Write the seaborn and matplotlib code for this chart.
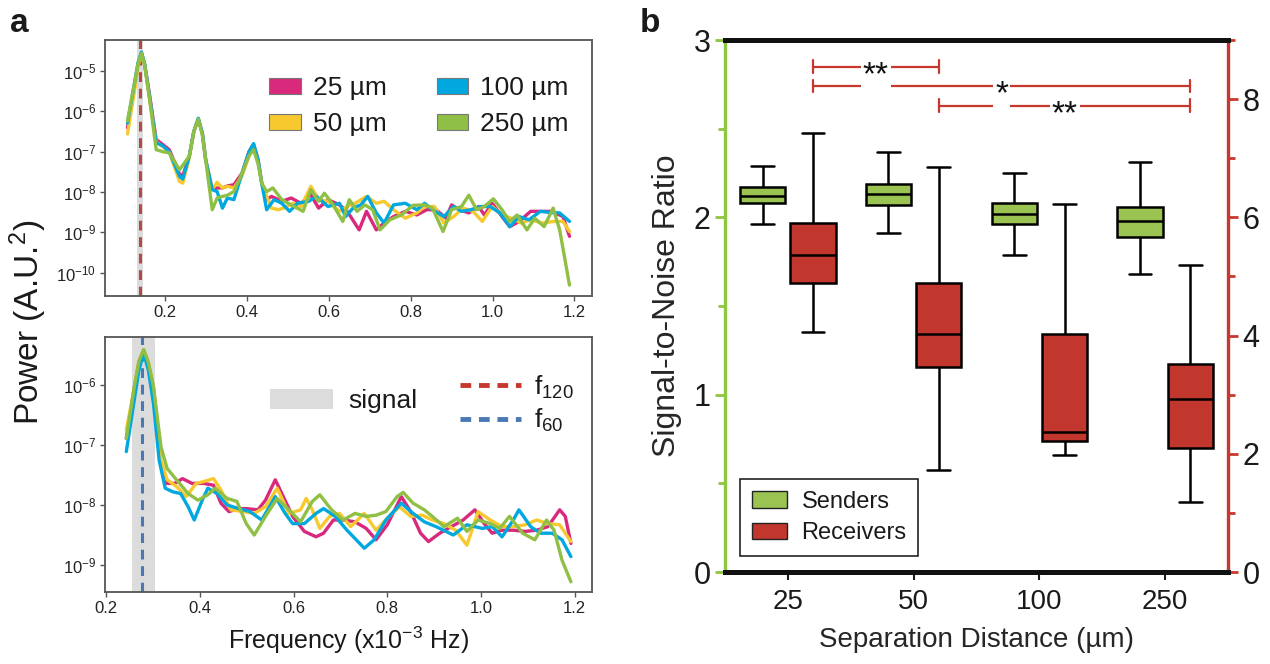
import numpy as np
import pandas as pd
import matplotlib
matplotlib.use("Agg")
import matplotlib.pyplot as plt
import seaborn as sns
from matplotlib.patches import Patch
from matplotlib.lines import Line2D
from matplotlib.ticker import FixedLocator, NullLocator, FuncFormatter

# ---------------- data: panel a (log10 of power, A.U.^2) ----------------
series_names = ["25 µm", "50 µm", "100 µm", "250 µm"]

top_freq_25 = [0.108,0.125,0.134,0.142,0.150,0.162,0.178,0.194,0.21,0.235,0.243,0.259,0.270,0.281,0.291,0.299,0.315,0.327,0.34,0.352,0.368,0.388,0.405,0.416,0.427,0.436,0.448,0.46,
               0.485,0.508,0.532,0.556,0.575,0.598,0.626,0.645,0.674,0.692,0.716,0.735,0.758,0.787,0.815,0.839,0.862,0.886,0.9,0.919,0.942,0.966,0.98,0.999,1.023,1.042,1.065,1.093,1.117,1.145,1.172,1.188]
top_logp_25 = [-6.41,-5.4,-4.82,-4.55,-4.85,-5.6,-6.70,-6.82,-6.95,-7.55,-7.6,-7.11,-6.5,-6.19,-6.55,-7.2,-7.94,-7.9,-7.9,-7.85,-7.82,-7.53,-7.0,-6.82,-7.2,-7.78,-8.19,-8.11,
               -8.23,-8.15,-8.28,-8.07,-8.40,-8.19,-8.32,-8.48,-8.94,-8.48,-8.94,-8.77,-8.61,-8.48,-8.57,-8.44,-8.44,-8.65,-8.32,-8.44,-8.52,-8.36,-8.57,-8.28,-8.61,-8.86,-8.73,-8.48,-8.48,-8.48,-8.61,-9.10]

top_freq_50 = [0.108,0.125,0.134,0.142,0.150,0.162,0.178,0.194,0.21,0.235,0.243,0.259,0.270,0.281,0.291,0.299,0.315,0.327,0.34,0.352,0.368,0.388,0.405,0.416,0.427,0.436,0.448,0.46,0.476,
               0.49,0.513,0.532,0.556,0.575,0.598,0.626,0.645,0.664,0.692,0.716,0.735,0.758,0.787,0.815,0.834,0.858,0.881,0.905,0.928,0.952,0.975,0.999,1.023,1.046,1.07,1.093,1.121,1.149,1.172,1.188]
top_logp_50 = [-6.56,-5.5,-4.85,-4.58,-4.88,-5.7,-6.75,-6.88,-7.0,-7.74,-7.78,-7.15,-6.5,-6.19,-6.55,-7.2,-7.94,-7.76,-7.9,-7.86,-7.9,-7.6,-7.1,-6.9,-7.25,-7.78,-8.11,-8.4,-8.44,
               -8.40,-8.28,-8.36,-7.86,-8.19,-8.23,-8.48,-8.36,-8.28,-8.11,-8.28,-8.23,-8.44,-8.65,-8.52,-8.36,-8.36,-8.77,-8.61,-8.40,-8.48,-8.73,-8.36,-8.57,-8.65,-8.77,-8.69,-8.77,-8.73,-8.73,-8.98]

top_freq_100 = [0.108,0.125,0.134,0.142,0.150,0.162,0.178,0.194,0.21,0.235,0.243,0.259,0.270,0.281,0.291,0.299,0.315,0.327,0.34,0.352,0.368,0.388,0.405,0.416,0.427,0.436,0.448,0.466,
                0.485,0.504,0.523,0.551,0.57,0.598,0.626,0.641,0.659,0.678,0.695,0.716,0.735,0.758,0.787,0.815,0.834,0.853,0.881,0.905,0.924,0.947,0.971,0.994,1.018,1.042,1.065,1.089,1.117,1.141,1.164,1.188]
top_logp_100 = [-6.29,-5.3,-4.78,-4.53,-4.82,-5.65,-6.78,-6.85,-7.0,-7.61,-7.68,-7.11,-6.5,-6.17,-6.55,-7.2,-7.94,-7.99,-8.4,-8.15,-8.19,-7.53,-7.0,-6.8,-7.2,-7.78,-8.44,-8.19,
                -8.28,-8.48,-8.28,-8.23,-8.11,-8.36,-8.28,-8.61,-8.40,-8.32,-8.11,-8.52,-8.77,-8.32,-8.28,-8.44,-8.28,-8.44,-8.61,-8.36,-8.48,-8.44,-8.36,-8.36,-8.52,-8.86,-8.61,-8.69,-8.48,-8.51,-8.52,-8.73]

top_freq_250 = [0.108,0.125,0.134,0.142,0.150,0.162,0.178,0.194,0.21,0.235,0.259,0.270,0.281,0.291,0.299,0.315,0.327,0.34,0.352,0.368,0.388,0.405,0.416,0.427,0.436,0.448,0.463,
                0.485,0.508,0.537,0.556,0.575,0.589,0.608,0.634,0.65,0.669,0.688,0.707,0.725,0.749,0.777,0.806,0.834,0.853,0.879,0.9,0.924,0.942,0.961,0.98,1.002,1.023,1.042,1.06,1.084,1.103,1.126,1.148,1.164,1.188]
top_logp_250 = [-6.24,-5.3,-4.8,-4.56,-4.85,-5.7,-6.95,-7.0,-7.03,-7.45,-7.11,-6.5,-6.19,-6.6,-7.2,-8.44,-8.15,-8.11,-8.08,-7.99,-7.53,-7.1,-6.95,-7.3,-7.78,-7.99,-7.9,
                -8.19,-8.32,-8.48,-7.94,-8.23,-8.03,-8.28,-8.73,-8.19,-8.48,-8.32,-8.44,-8.94,-8.69,-8.57,-8.33,-8.32,-8.40,-8.98,-8.44,-8.36,-8.08,-8.44,-8.36,-8.17,-8.44,-8.73,-8.57,-8.94,-8.65,-8.86,-8.40,-8.94,-10.31]

bot_freq_25 = [0.243,0.26,0.27,0.28,0.29,0.301,0.317,0.33,0.346,0.363,0.383,0.408,0.429,0.445,0.462,0.483,0.499,0.524,0.54,0.561,0.578,0.598,0.623,0.648,0.664,
               0.685,0.706,0.731,0.755,0.776,0.8,0.83,0.85,0.871,0.888,0.912,0.937,0.962,0.987,1.007,1.024,1.045,1.069,1.094,1.119,1.143,1.168,1.18,1.192]
bot_logp_25 = [-6.89,-6.05,-5.62,-5.42,-5.64,-6.05,-7.36,-7.64,-7.64,-7.56,-7.64,-7.64,-7.67,-7.97,-8.11,-8.06,-8.06,-8.08,-7.92,-7.58,-7.86,-8.19,-8.44,-8.53,-8.47,
               -8.25,-8.25,-8.28,-8.39,-8.58,-8.33,-7.86,-8.11,-8.47,-8.61,-8.47,-8.36,-8.25,-8.08,-8.31,-8.47,-8.42,-8.42,-8.44,-8.42,-8.36,-8.08,-8.19,-8.64]

bot_freq_50 = [0.243,0.26,0.27,0.28,0.29,0.301,0.317,0.33,0.35,0.371,0.392,0.408,0.429,0.445,0.466,0.491,0.516,0.54,0.565,0.59,0.615,0.627,0.64,0.656,0.677,
               0.698,0.722,0.751,0.776,0.8,0.826,0.85,0.875,0.896,0.921,0.946,0.97,0.994,1.02,1.045,1.069,1.094,1.119,1.143,1.168,1.192]
bot_logp_50 = [-6.75,-6.05,-5.6,-5.41,-5.62,-6.05,-7.25,-7.58,-7.69,-7.86,-7.64,-7.61,-7.56,-7.75,-8.08,-8.11,-8.14,-8.03,-7.72,-8.14,-8.08,-7.89,-8.08,-8.39,-8.19,
               -8.14,-8.36,-8.14,-8.42,-8.22,-8.03,-8.19,-8.17,-8.25,-8.31,-8.42,-8.67,-8.11,-8.25,-8.36,-8.36,-8.33,-8.25,-8.31,-8.33,-8.61]

bot_freq_100 = [0.243,0.26,0.27,0.28,0.29,0.301,0.313,0.326,0.342,0.359,0.375,0.388,0.404,0.417,0.437,0.458,0.483,0.507,0.532,0.561,0.582,0.598,0.623,0.648,0.664,
                0.689,0.714,0.751,0.772,0.797,0.83,0.855,0.879,0.904,0.941,0.97,1.003,1.024,1.045,1.069,1.081,1.106,1.127,1.152,1.173,1.192]
bot_logp_100 = [-7.11,-6.25,-5.75,-5.47,-5.75,-6.31,-7.25,-7.72,-7.78,-7.81,-8.03,-8.25,-7.94,-7.72,-7.81,-8.0,-8.06,-8.11,-8.25,-7.86,-8.14,-8.31,-8.31,-8.14,-8.06,
                -8.19,-8.42,-8.72,-8.58,-8.25,-7.97,-8.14,-8.28,-8.36,-8.5,-8.33,-8.39,-8.36,-8.53,-8.25,-8.08,-8.36,-8.47,-8.47,-8.58,-8.86]

bot_freq_250 = [0.243,0.26,0.27,0.28,0.29,0.301,0.317,0.33,0.35,0.375,0.396,0.417,0.433,0.458,0.479,0.499,0.516,0.54,0.565,0.59,0.615,0.64,0.656,0.681,0.706,
                0.731,0.755,0.776,0.797,0.821,0.834,0.855,0.879,0.896,0.921,0.95,0.97,0.994,1.02,1.04,1.061,1.089,1.115,1.14,1.156,1.173,1.192]
bot_logp_250 = [-6.89,-6.03,-5.6,-5.41,-5.62,-6.03,-7.03,-7.39,-7.58,-7.81,-7.92,-7.83,-7.72,-7.89,-7.94,-8.31,-8.5,-8.19,-7.89,-8.08,-8.28,-7.94,-7.83,-8.08,-8.25,
                -8.14,-8.19,-8.17,-8.11,-7.86,-7.79,-7.97,-8.08,-8.19,-8.36,-8.22,-8.44,-8.25,-8.31,-8.39,-8.19,-8.47,-8.58,-8.25,-8.42,-8.92,-9.28]

f120_line = 0.1395
f60_line = 0.277
signal_band_top = (0.132, 0.147)
signal_band_bottom = (0.255, 0.305)

# ---------------- data: panel b (five-number summaries) ----------------
distances = ["25", "50", "100", "250"]
senders_whislo = [1.96, 1.91, 1.79, 1.68]
senders_q1 = [2.08, 2.07, 1.96, 1.89]
senders_median = [2.12, 2.13, 2.02, 1.98]
senders_q3 = [2.17, 2.19, 2.08, 2.06]
senders_whishi = [2.29, 2.37, 2.25, 2.31]
# receivers on right axis (0-9)
receivers_whislo = [4.06, 1.72, 1.98, 1.19]
receivers_q1 = [4.89, 3.47, 2.21, 2.10]
receivers_median = [5.37, 4.03, 2.37, 2.93]
receivers_q3 = [5.91, 4.89, 4.03, 3.52]
receivers_whishi = [7.42, 6.85, 6.23, 5.20]
# significance brackets (from distance index, to distance index, label, left-axis level)
sig_pairs = [(0, 1, "**", 2.85), (0, 3, "*", 2.74), (1, 3, "**", 2.63)]

# ---------------- style ----------------
sns.set_theme(style="white")
plt.rcParams["font.family"] = ["Liberation Sans", "DejaVu Sans"]
plt.rcParams["mathtext.fontset"] = "custom"
plt.rcParams["mathtext.rm"] = "Liberation Sans"
plt.rcParams["mathtext.it"] = "Liberation Sans:italic"
plt.rcParams["mathtext.bf"] = "Liberation Sans:bold"
plt.rcParams["text.color"] = "#1a1a1a"

line_colors = {"25 µm": "#d9297c", "50 µm": "#f7c92e", "100 µm": "#00a8df", "250 µm": "#8fc045"}
GREEN_BOX = "#9ac351"
RED_BOX = "#c1372d"
GREEN_SPINE = "#8dc63f"
RED_SPINE = "#c8372d"

W, H = 1270, 664
fig = plt.figure(figsize=(W / 100, H / 100), dpi=100)


def frac(l, t, r, b):
    return [l / W, (H - b) / H, (r - l) / W, (b - t) / H]


def long_df(freqs, logps):
    rows = []
    for name, f, lp in zip(series_names, freqs, logps):
        for x, y in zip(f, lp):
            rows.append({"freq": x, "power": 10.0 ** y, "dist": name})
    return pd.DataFrame(rows)


df_top = long_df([top_freq_25, top_freq_50, top_freq_100, top_freq_250],
                 [top_logp_25, top_logp_50, top_logp_100, top_logp_250])
df_bot = long_df([bot_freq_25, bot_freq_50, bot_freq_100, bot_freq_250],
                 [bot_logp_25, bot_logp_50, bot_logp_100, bot_logp_250])

ax_top = fig.add_axes(frac(105, 40, 592, 296))
ax_bot = fig.add_axes(frac(105, 337, 592, 592))

log_fmt = FuncFormatter(lambda v, p: r"$10^{%d}$" % int(round(np.log10(v))))

for ax, df, band, vline, vcol, ylim, xlim, yt in [
    (ax_top, df_top, signal_band_top, f120_line, "#b5484a", (10 ** -10.58, 10 ** -4.23), (0.053, 1.243), range(-10, -4)),
    (ax_bot, df_bot, signal_band_bottom, f60_line, "#4a78b5", (10 ** -9.45, 10 ** -5.2), (0.1975, 1.237), range(-9, -5)),
]:
    ax.set_yscale("log")
    ax.axvspan(band[0], band[1], color="#dcdcdc", lw=0, zorder=0)
    sns.lineplot(data=df, x="freq", y="power", hue="dist", hue_order=series_names,
                 palette=line_colors, estimator=None, sort=True, linewidth=2.4,
                 legend=False, ax=ax, zorder=2)
    for ln in ax.get_lines():
        ln.set_solid_joinstyle("round")
        ln.set_solid_capstyle("round")
    ax.axvline(vline, color=vcol, lw=2.2, ls=(0, (3.2, 2.2)), zorder=1.5)
    ax.set_xlim(*xlim)
    ax.set_ylim(*ylim)
    ax.yaxis.set_major_locator(FixedLocator([10.0 ** k for k in yt]))
    ax.yaxis.set_minor_locator(NullLocator())
    ax.yaxis.set_major_formatter(log_fmt)
    ax.xaxis.set_major_locator(FixedLocator([0.2, 0.4, 0.6, 0.8, 1.0, 1.2]))
    ax.xaxis.set_major_formatter(FuncFormatter(lambda v, p: "%.1f" % v))
    ax.tick_params(axis="both", which="major", direction="out", length=3.5, width=1,
                   color="#555555", labelsize=12, pad=3, labelcolor="#222222",
                   bottom=True, left=True)
    ax.set_xlabel("")
    ax.set_ylabel("")
    for s in ax.spines.values():
        s.set_color("#555555")
        s.set_linewidth(1.3)
        s.set_visible(True)
    ax.set_facecolor("white")

# top legend
top_handles = [Patch(facecolor=line_colors[n], edgecolor="#777777", linewidth=0.8, label=n) for n in series_names]
ax_top.legend(handles=top_handles, ncol=2, loc="upper right", bbox_to_anchor=(0.99, 0.93),
              frameon=False, fontsize=19, handlelength=1.2, handleheight=0.55, handletextpad=0.45,
              columnspacing=1.9, labelspacing=0.45, borderpad=0.2)

# bottom legends
leg_sig = ax_bot.legend(handles=[Patch(facecolor="#dcdcdc", edgecolor="none", label="signal")],
                        loc="upper left", bbox_to_anchor=(0.3, 0.87), frameon=False, fontsize=19,
                        handlelength=2.4, handleheight=0.8, handletextpad=0.6, borderpad=0.2)
ax_bot.add_artist(leg_sig)
ax_bot.legend(handles=[Line2D([], [], color="#c8372d", lw=3.5, ls=(0, (2.2, 1.6)), label=r"f$_{120}$"),
                       Line2D([], [], color="#4a78b5", lw=3.5, ls=(0, (2.2, 1.6)), label=r"f$_{60}$")],
              loc="upper right", bbox_to_anchor=(1.0, 0.93), frameon=False, fontsize=19,
              handlelength=2.3, handletextpad=0.5, labelspacing=0.25, borderpad=0.2)

fig.text(0.022, (H - 322) / H, "Power (A.U.$^2$)", rotation=90, fontsize=24, ha="center", va="center")
fig.text((105 + 592) / 2 / W, (H - 640) / H, "Frequency (x10$^{-3}$ Hz)", fontsize=18, ha="center", va="center")
fig.text(10 / W, (H - 8) / H, "a", fontsize=24, fontweight="bold", ha="left", va="top")
fig.text(640 / W, (H - 8) / H, "b", fontsize=24, fontweight="bold", ha="left", va="top")

# ---------------- panel b ----------------
ax_b = fig.add_axes(frac(725, 40, 1228, 572))
ax_r = ax_b.twinx()

s_rows, r_rows = [], []
for i, d in enumerate(distances):
    for v in (senders_whislo[i], senders_q1[i], senders_median[i], senders_q3[i], senders_whishi[i]):
        s_rows.append({"distance": d, "value": v, "group": "Senders"})
    for v in (receivers_whislo[i], receivers_q1[i], receivers_median[i], receivers_q3[i], receivers_whishi[i]):
        r_rows.append({"distance": d, "value": v, "group": "Receivers"})
df_s = pd.DataFrame(s_rows)
df_r = pd.DataFrame(r_rows)

box_kw = dict(x="distance", y="value", hue="group", order=distances, hue_order=["Senders", "Receivers"],
              palette={"Senders": GREEN_BOX, "Receivers": RED_BOX}, whis=(0, 100), width=0.8, gap=0.1,
              dodge=True, saturation=1, linecolor="black", linewidth=1.8, legend=False, showfliers=False)
sns.boxplot(data=df_s, ax=ax_b, **box_kw)
sns.boxplot(data=df_r, ax=ax_r, **box_kw)

ax_b.set_ylim(0, 3)
ax_r.set_ylim(0, 9)
ax_b.set_xlim(-0.5, 3.5)
ax_b.set_yticks([0, 1, 2, 3])
ax_b.set_yticks([0.5, 1.5, 2.5], minor=True)
ax_r.set_yticks([0, 2, 4, 6, 8])
ax_r.set_yticks([1, 3, 5, 7, 9], minor=True)
ax_b.tick_params(axis="y", which="both", colors=GREEN_SPINE, labelcolor="#1a1a1a", direction="out",
                 width=2, labelsize=22, left=True)
ax_b.tick_params(axis="y", which="major", length=7)
ax_b.tick_params(axis="y", which="minor", length=5)
ax_r.tick_params(axis="y", which="both", colors=RED_SPINE, labelcolor="#1a1a1a", direction="out",
                 width=2, labelsize=22, right=True)
ax_r.tick_params(axis="y", which="major", length=7)
ax_r.tick_params(axis="y", which="minor", length=5)
ax_b.tick_params(axis="x", colors="#1a1a1a", direction="out", length=6, width=1.5, labelsize=20, bottom=True, pad=6)
ax_r.tick_params(axis="x", bottom=False, labelbottom=False)

for a in (ax_b, ax_r):
    a.spines["top"].set_color("#111111")
    a.spines["top"].set_linewidth(3.6)
    a.spines["bottom"].set_color("#111111")
    a.spines["bottom"].set_linewidth(3.6)
    a.spines["left"].set_color(GREEN_SPINE)
    a.spines["left"].set_linewidth(2.4)
    a.spines["right"].set_color(RED_SPINE)
    a.spines["right"].set_linewidth(2.4)
ax_r.spines["left"].set_visible(False)
ax_b.spines["right"].set_visible(False)

ax_b.set_xlabel("Separation Distance (µm)", fontsize=20, labelpad=9)
ax_b.set_ylabel("Signal-to-Noise Ratio", fontsize=23, labelpad=8)
ax_r.set_ylabel("")

# significance brackets (receiver boxes sit at +0.2 of each category)
offset = 0.2
cap = 0.035
for i0, i1, lab, lev in sig_pairs:
    x0, x1 = i0 + offset, i1 + offset
    ax_b.plot([x0, x1], [lev, lev], color=RED_SPINE, lw=1.6, zorder=5, clip_on=False)
    ax_b.plot([x0, x0], [lev - cap, lev + cap], color=RED_SPINE, lw=1.6, zorder=5)
    ax_b.plot([x1, x1], [lev - cap, lev + cap], color=RED_SPINE, lw=1.6, zorder=5)
    ax_b.text((x0 + x1) / 2, lev - 0.05, lab, fontsize=24, ha="center", va="center", zorder=6,
              color="#111111", bbox=dict(facecolor="white", edgecolor="none", pad=1.5))

ax_r.legend(handles=[Patch(facecolor=GREEN_BOX, edgecolor="#222222", lw=1, label="Senders"),
                     Patch(facecolor=RED_BOX, edgecolor="#222222", lw=1, label="Receivers")],
            loc="lower left", bbox_to_anchor=(0.03, 0.03), borderaxespad=0, fontsize=17,
            frameon=True, fancybox=False, edgecolor="#222222", framealpha=1,
            handlelength=1.5, handleheight=0.7, handletextpad=0.6, labelspacing=0.4, borderpad=0.5)
ax_r.get_legend().get_frame().set_linewidth(1.2)

fig.savefig("out.png", dpi=100)
